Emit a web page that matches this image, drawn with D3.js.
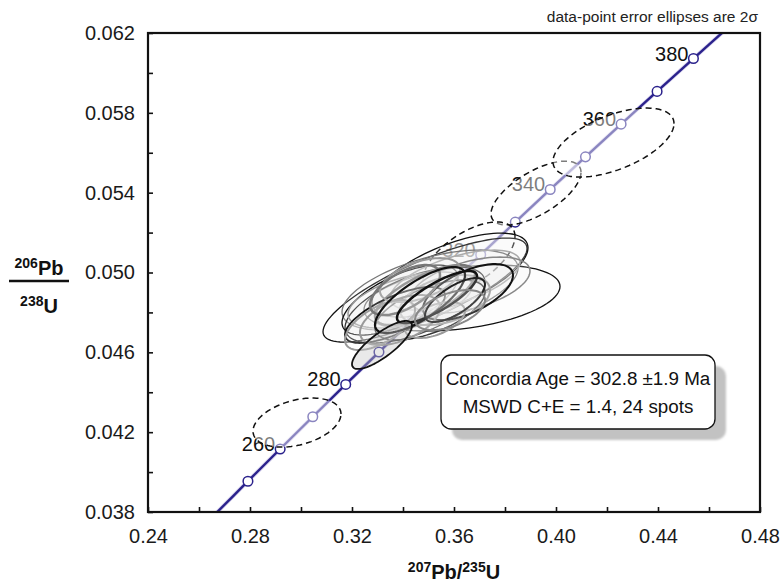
<!DOCTYPE html>
<html>
<head>
<meta charset="utf-8">
<script src="https://cdn.jsdelivr.net/npm/d3@7"></script>
<style>
  body { margin: 0; background: #fff; }
  svg text { font-family: "Liberation Sans", Arial, Helvetica, sans-serif; }
</style>
</head>
<body>
<svg id="chart" width="782" height="585"></svg>
<script>
/** DATA **/
// concordia curve: age (Ma), 207Pb/235U, 206Pb/238U
var curveAge = [240, 250, 260, 270, 280, 290, 300, 310, 320, 330, 340, 350, 360, 370, 380, 390];
var curveX = [0.26665, 0.27919, 0.29183, 0.30462, 0.31753, 0.33057, 0.34374, 0.35704, 0.37047, 0.38403, 0.39773, 0.41156, 0.42553, 0.43964, 0.45389, 0.46828];
var curveY = [0.037932, 0.039543, 0.041157, 0.042773, 0.044392, 0.046013, 0.047638, 0.049264, 0.050893, 0.052524, 0.054159, 0.055795, 0.057434, 0.059075, 0.06072, 0.062367];
var labelAges = [260, 280, 320, 340, 360, 380];

// spots used in the concordia age (2 sigma)
var spotX    = [0.36314, 0.34863, 0.35843, 0.35059, 0.34471, 0.33882, 0.34275, 0.36039, 0.36627, 0.35059, 0.35647, 0.34863, 0.33686, 0.34667, 0.36549, 0.33882, 0.33098, 0.34078, 0.35255, 0.34667, 0.35333, 0.36039, 0.33176, 0.35843];
var spotX2s  = [0.03843, 0.04000, 0.03059, 0.03451, 0.02745, 0.02275, 0.02431, 0.02549, 0.02353, 0.02157, 0.01765, 0.01961, 0.01961, 0.01569, 0.01765, 0.01569, 0.01373, 0.01373, 0.01176, 0.01765, 0.01569, 0.01176, 0.01176, 0.01373];
var spotY    = [0.04872, 0.04912, 0.04987, 0.04912, 0.04837, 0.04862, 0.04862, 0.04962, 0.04937, 0.04812, 0.04862, 0.04887, 0.04787, 0.04962, 0.04902, 0.04762, 0.04737, 0.04912, 0.04762, 0.04862, 0.04877, 0.04862, 0.04637, 0.04812];
var spotY2s  = [0.001653, 0.002605, 0.002104, 0.002004, 0.001904, 0.001754, 0.001403, 0.001503, 0.001403, 0.001503, 0.001253, 0.001503, 0.001403, 0.001102, 0.001403, 0.001253, 0.001253, 0.001253, 0.000902, 0.001653, 0.001303, 0.001102, 0.001203, 0.001002];
var spotRho  = [0.35, 0.8, 0.65, 0.55, 0.6, 0.65, 0.5, 0.6, 0.5, 0.6, 0.4, 0.7, 0.7, 0.5, 0.6, 0.5, 0.6, 0.6, 0.5, 0.75, 0.8, 0.7, 0.8, 0.5];

// rejected spots (dashed)
var rejX   = [0.29843, 0.39216, 0.42255, 0.36588];
var rejX2s = [0.01725, 0.01765, 0.02373, 0.01804];
var rejY   = [0.04248, 0.05398, 0.05651, 0.05073];
var rejY2s = [0.00123, 0.00160, 0.00173, 0.00180];
var rejRho = [0.35, 0.65, 0.55, 0.6];

var xTicks = d3.range(0, 13).map(function(i){ return +(0.24 + i * 0.02).toFixed(2); });
var yTicks = d3.range(0, 13).map(function(i){ return +(0.038 + i * 0.002).toFixed(3); });
var statLines = ['Concordia Age = 302.8 \u00b11.9 Ma', 'MSWD C+E = 1.4, 24 spots'];

/** STYLE **/
var spotStroke = ['#111', '#111', '#111', '#777', '#111', '#111', '#999', '#aaa', '#888', '#111', '#999', '#777', '#111', '#999', '#111', '#888', '#999', '#777', '#999', '#111', '#111', '#222', '#111', '#888'];
var spotWidth  = [1.3, 1.3, 1.3, 1.3, 1.3, 1.3, 1.5, 1.5, 1.5, 1.5, 2, 2.5, 1.8, 2, 2, 2, 2, 2.5, 2, 2.2, 2.5, 2, 1.8, 2];

/** CHART **/
var svg = d3.select('#chart');
var pLeft = 148, pRight = 760, pTop = 33, pBottom = 512;

var x = d3.scaleLinear().domain([0.24, 0.48]).range([pLeft, pRight]);
var y = d3.scaleLinear().domain([0.038, 0.062]).range([pBottom, pTop]);

var defs = svg.append('defs');
defs.append('clipPath').attr('id', 'plot')
   .append('rect').attr('x', pLeft).attr('y', pTop)
   .attr('width', pRight - pLeft).attr('height', pBottom - pTop);
defs.append('filter').attr('id', 'soft')
   .append('feGaussianBlur').attr('stdDeviation', 1.2);

var plot = svg.append('g').attr('clip-path', 'url(#plot)');

// concordia
var line = d3.line()
   .x(function(d){ return x(curveX[d]); })
   .y(function(d){ return y(curveY[d]); })
   .curve(d3.curveCatmullRom);
var idx = d3.range(curveAge.length);

plot.append('path').attr('d', line(idx))
   .attr('fill', 'none').attr('stroke', '#d8d4ee').attr('stroke-width', 4);
plot.append('path').attr('d', line(idx))
   .attr('fill', 'none').attr('stroke', '#2b228c').attr('stroke-width', 2.4);

plot.selectAll('circle.age')
   .data(idx.filter(function(i){ return curveAge[i] > 240 && curveAge[i] < 390; }))
   .enter().append('circle')
   .attr('class', 'age')
   .attr('cx', function(i){ return x(curveX[i]); })
   .attr('cy', function(i){ return y(curveY[i]); })
   .attr('r', 4.8)
   .attr('fill', '#fff').attr('stroke', '#2b228c').attr('stroke-width', 1.5);

plot.selectAll('text.age')
   .data(labelAges)
   .enter().append('text')
   .attr('class', 'age')
   .attr('x', function(a){ return x(curveX[curveAge.indexOf(a)]) - 5; })
   .attr('y', function(a){ return y(curveY[curveAge.indexOf(a)]) + 2; })
   .attr('text-anchor', 'end')
   .attr('font-size', 20)
   .attr('fill', '#111')
   .text(function(a){ return a; });

// ellipses
function ellipse(mx, sx, my, sy, rho){
   var pts = d3.range(0, 97).map(function(k){
      var t = k / 96 * 2 * Math.PI;
      var dx = sx * Math.cos(t),
         dy = sy * (rho * Math.cos(t) + Math.sqrt(1 - rho * rho) * Math.sin(t));
      return [x(mx + dx), y(my + dy)];
   });
   return d3.line()(pts) + 'Z';
}

plot.selectAll('path.rej')
   .data(d3.range(rejX.length))
   .enter().append('path')
   .attr('class', 'rej')
   .attr('d', function(i){ return ellipse(rejX[i], rejX2s[i], rejY[i], rejY2s[i], rejRho[i]); })
   .attr('fill', 'rgba(255,255,255,0.45)')
   .attr('stroke', '#111').attr('stroke-width', 1.5)
   .attr('stroke-dasharray', '6,4');

plot.selectAll('path.spot')
   .data(d3.range(spotX.length))
   .enter().append('path')
   .attr('class', 'spot')
   .attr('d', function(i){ return ellipse(spotX[i], spotX2s[i], spotY[i], spotY2s[i], spotRho[i]); })
   .attr('fill', function(i){ return i === 22 ? 'rgba(200,200,200,0.4)' : 'rgba(240,240,240,0.16)'; })
   .attr('stroke', function(i){ return spotStroke[i]; })
   .attr('stroke-width', function(i){ return spotWidth[i]; });

// axes
var xAxis = d3.axisBottom(x)
   .tickValues(xTicks)
   .tickSizeInner(-5).tickSizeOuter(0).tickPadding(17)
   .tickFormat(function(d, i){ return i % 2 === 0 ? d3.format('.2f')(d) : ''; });
var yAxis = d3.axisLeft(y)
   .tickValues(yTicks)
   .tickSizeInner(-5).tickSizeOuter(0).tickPadding(13)
   .tickFormat(function(d, i){ return i % 2 === 0 ? d3.format('.3f')(d) : ''; });

var gx = svg.append('g').attr('transform', 'translate(0,' + pBottom + ')').call(xAxis);
var gy = svg.append('g').attr('transform', 'translate(' + pLeft + ',0)').call(yAxis);
[gx, gy].forEach(function(g){
   g.select('.domain').remove();
   g.selectAll('.tick line').attr('stroke', '#111').attr('stroke-width', 1.6);
   g.selectAll('.tick text').attr('font-size', 20).attr('fill', '#1a1a1a')
      .attr('font-family', '"Liberation Sans", Arial, sans-serif');
});

svg.append('rect')
   .attr('x', pLeft).attr('y', pTop)
   .attr('width', pRight - pLeft).attr('height', pBottom - pTop)
   .attr('fill', 'none').attr('stroke', '#111').attr('stroke-width', 2.2);

// stat box
svg.append('rect')
   .attr('x', 452).attr('y', 366).attr('width', 274).attr('height', 74).attr('rx', 10)
   .attr('fill', '#c2c2c2').attr('filter', 'url(#soft)');
svg.append('rect')
   .attr('x', 441).attr('y', 355).attr('width', 274).attr('height', 74).attr('rx', 10)
   .attr('fill', '#fff').attr('stroke', '#111').attr('stroke-width', 1.3);
svg.selectAll('text.stat')
   .data(statLines)
   .enter().append('text')
   .attr('class', 'stat')
   .attr('x', 578).attr('y', function(d, i){ return 385 + i * 28; })
   .attr('text-anchor', 'middle').attr('font-size', 18.8).attr('fill', '#111')
   .text(function(d){ return d; });

// labels
svg.append('text')
   .attr('x', 758).attr('y', 22).attr('text-anchor', 'end')
   .attr('font-size', 15.5).attr('fill', '#222')
   .text('data-point error ellipses are 2\u03c3');

var yl = svg.append('text').attr('x', 39).attr('y', 275)
   .attr('text-anchor', 'middle').attr('font-weight', 'bold').attr('fill', '#111');
yl.append('tspan').attr('font-size', 14).attr('dy', -7).text('206');
yl.append('tspan').attr('font-size', 20).attr('dy', 7).text('Pb');
svg.append('line').attr('x1', 9).attr('x2', 69).attr('y1', 281).attr('y2', 281)
   .attr('stroke', '#111').attr('stroke-width', 2.6);
var yl2 = svg.append('text').attr('x', 39).attr('y', 313)
   .attr('text-anchor', 'middle').attr('font-weight', 'bold').attr('fill', '#111');
yl2.append('tspan').attr('font-size', 14).attr('dy', -7).text('238');
yl2.append('tspan').attr('font-size', 20).attr('dy', 7).text('U');

var xl = svg.append('text').attr('x', 454).attr('y', 579)
   .attr('text-anchor', 'middle').attr('font-weight', 'bold').attr('fill', '#111');
xl.append('tspan').attr('font-size', 14).attr('dy', -7).text('207');
xl.append('tspan').attr('font-size', 20).attr('dy', 7).text('Pb/');
xl.append('tspan').attr('font-size', 14).attr('dy', -7).text('235');
xl.append('tspan').attr('font-size', 20).attr('dy', 7).text('U');
</script>
</body>
</html>
